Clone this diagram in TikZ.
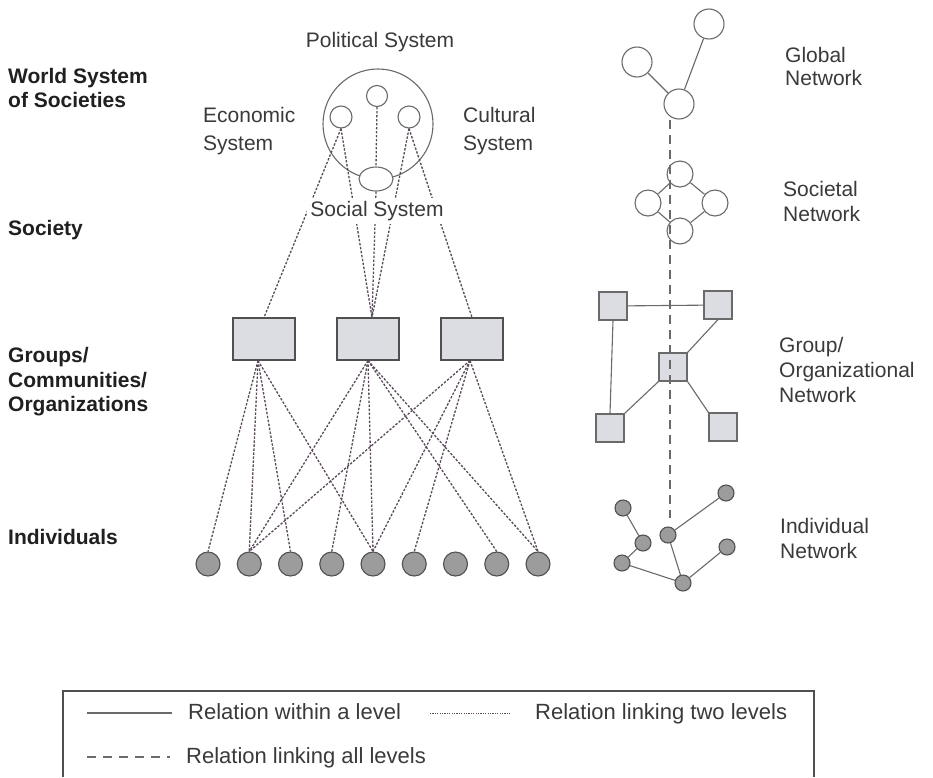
\documentclass[tikz,border=0pt]{standalone}
\usepackage{fontspec}
\setmainfont{Liberation Sans}
\usetikzlibrary{shapes.geometric}
\definecolor{ink}{HTML}{3A3A3A}
\definecolor{inkdark}{HTML}{202020}
\definecolor{edge}{HTML}{6A6A6A}
\definecolor{link}{HTML}{5A4A5A}
\definecolor{boxfill}{HTML}{DCDDE3}
\definecolor{dotfill}{HTML}{9C9C9C}
\definecolor{dotline}{HTML}{505050}
\begin{document}
\begin{tikzpicture}[x=1pt,y=-1pt,
  txt/.style={font=\fontsize{21}{25}\selectfont, text=ink, align=left, inner sep=0pt},
  keytxt/.style={txt, font=\fontsize{22}{26}\selectfont, anchor=west, text height=15.5pt, text depth=4.5pt},
  lvl/.style={font=\fontsize{21}{24.5}\selectfont\bfseries, text=inkdark, align=left, inner sep=0pt, anchor=west},
  ring/.style={circle, draw=edge, line width=1.1pt, inner sep=0pt, minimum size=#1},
  grp/.style={rectangle, draw=dotline, fill=boxfill, line width=1.1pt, inner sep=0pt, minimum width=62, minimum height=42},
  sq/.style={rectangle, draw=edge, fill=boxfill, line width=1.1pt, inner sep=0pt, minimum size=28},
  person/.style={circle, draw=dotline, fill=dotfill, line width=1.1pt, inner sep=0pt, minimum size=#1},
  within/.style={draw=edge, line width=1.1pt},
  twolevel/.style={draw=link, line width=1.3pt, dash pattern=on 2.4pt off 1.6pt},
  alllevel/.style={draw=edge, line width=1.1pt, dash pattern=on 9pt off 6pt}
]
\useasboundingbox (0,0) rectangle (933,777);
\fill[white] (0,0) rectangle (933,777);

% level names
\node[lvl] (lwsys) at (8,88) {World System\\of Societies};
\node[lvl] (lsoc) at (8,230) {Society};
\node[lvl] (lgrp) at (8,382) {Groups/\\Communities/\\Organizations};
\node[lvl] (lind) at (8,537) {Individuals};

% society with its subsystems
\node[ring=110] (world) at (378,124) {};
\node[ring=21] (pc) at (377,96) {};
\node[ring=22] (ec) at (341,117) {};
\node[ring=22] (cc) at (409,117) {};
\node[ellipse, draw=edge, fill=white, line width=1.1pt, inner sep=0pt, minimum width=34, minimum height=24] (el) at (376,179) {};

\node[txt, anchor=center] (tpol) at (380,42) {Political System};
\node[txt, anchor=west, font=\fontsize{21}{28}\selectfont] (tecon) at (203,131) {Economic\\System};
\node[txt, anchor=west, font=\fontsize{21}{28}\selectfont] (tcult) at (463,131) {Cultural\\System};

% groups
\node[grp] (g1) at (264,339) {};
\node[grp] (g2) at (368,339) {};
\node[grp] (g3) at (472,339) {};

% individuals
\foreach \i in {1,...,9} {
  \node[person=24] (p\i) at ({208+(\i-1)*41.25},564) {};
}

% links between subsystems and groups
\draw[twolevel] (pc.south) -- (el.north);
\draw[twolevel] (ec.south) -- (g1.north);
\draw[twolevel] (ec.south) -- ([xshift=4pt]g2.north);
\draw[twolevel] (el.south) -- ([xshift=4pt]g2.north);
\draw[twolevel] (cc.south) -- ([xshift=4pt]g2.north);
\draw[twolevel] (cc.south) -- (g3.north);

\node[txt, anchor=center, fill=white, inner sep=3pt] (tsocial) at (377,211) {Social System};

% links between groups and individuals
\foreach \t in {1,2,3,5} { \draw[twolevel] ([xshift=-6pt]g1.south) -- (p\t.north); }
\foreach \t in {2,4,5,8,9} { \draw[twolevel] (g2.south) -- (p\t.north); }
\foreach \t in {2,5,6,9} { \draw[twolevel] ([xshift=-2pt]g3.south) -- (p\t.north); }

% global network
\node[ring=30] (ga) at (709,24) {};
\node[ring=30] (gb) at (637,62) {};
\node[ring=30] (gc) at (679,104) {};
\draw[within] (gb) -- (gc);
\draw[within] (ga) -- (gc);

% societal network
\node[ring=26] (st) at (680,174) {};
\node[ring=26] (sl) at (648,203) {};
\node[ring=26] (sr) at (715,203) {};
\node[ring=26] (sb) at (680,231) {};
\draw[within] (st) -- (sl) (st) -- (sr) (sl) -- (sb) (sr) -- (sb);

% group / organizational network
\node[sq] (otl) at (613,306) {};
\node[sq] (otr) at (718,305) {};
\node[sq] (om) at (673,367) {};
\node[sq] (obl) at (610,428) {};
\node[sq] (obr) at (723,427) {};
\draw[within] (otl) -- (otr);
\draw[within] (otl.south) -- (obl.north);
\draw[within] (otr.south) -- (om.north east);
\draw[within] (om.south west) -- (obl.north east);
\draw[within] (om.south east) -- (obr.north west);

% individual network
\node[person=16] (n1) at (623,508) {};
\node[person=16] (n2) at (643,543) {};
\node[person=16] (n3) at (622,563) {};
\node[person=16] (n4) at (668,535) {};
\node[person=16] (n5) at (726,493) {};
\node[person=16] (n6) at (727,547) {};
\node[person=16] (n7) at (683,583) {};
\draw[within] (n1) -- (n2) (n2) -- (n3) (n3) -- (n7) (n4) -- (n5) (n4) -- (n7) (n7) -- (n6);

% relation running through all levels
\coordinate (dtop) at (670,120);
\coordinate (dbot) at (670,518);
\draw[alllevel] (dtop) -- (dbot);

% network names
\node[txt, anchor=west, font=\fontsize{21}{23}\selectfont] (tglob) at (785,66) {Global\\Network};
\node[txt, anchor=west] (tsocn) at (783,201) {Societal\\Network};
\node[txt, anchor=west, font=\fontsize{21}{25}\selectfont] (tgrpn) at (779,370) {Group/\\Organizational\\Network};
\node[txt, anchor=west] (tindn) at (780,538) {Individual\\Network};

% key
\draw[draw=dotline, line width=1.1pt] (63,777) -- (63,691) -- (814,691) -- (814,777);
\coordinate (k1a) at (87,713);
\coordinate (k1b) at (172,713);
\draw[within] (k1a) -- (k1b);
\node[keytxt] (key1) at (188,714) {Relation within a level};
\coordinate (k2a) at (430,713);
\coordinate (k2b) at (510,713);
\draw[draw=link, line width=0.9pt, dash pattern=on 1.2pt off 1.2pt] (k2a) -- (k2b);
\node[keytxt] (key2) at (535,714) {Relation linking two levels};
\coordinate (k3a) at (87,757);
\coordinate (k3b) at (170,757);
\draw[alllevel, dash pattern=on 9pt off 7pt] (k3a) -- (k3b);
\node[keytxt] (key3) at (186,758) {Relation linking all levels};
\end{tikzpicture}
\end{document}
